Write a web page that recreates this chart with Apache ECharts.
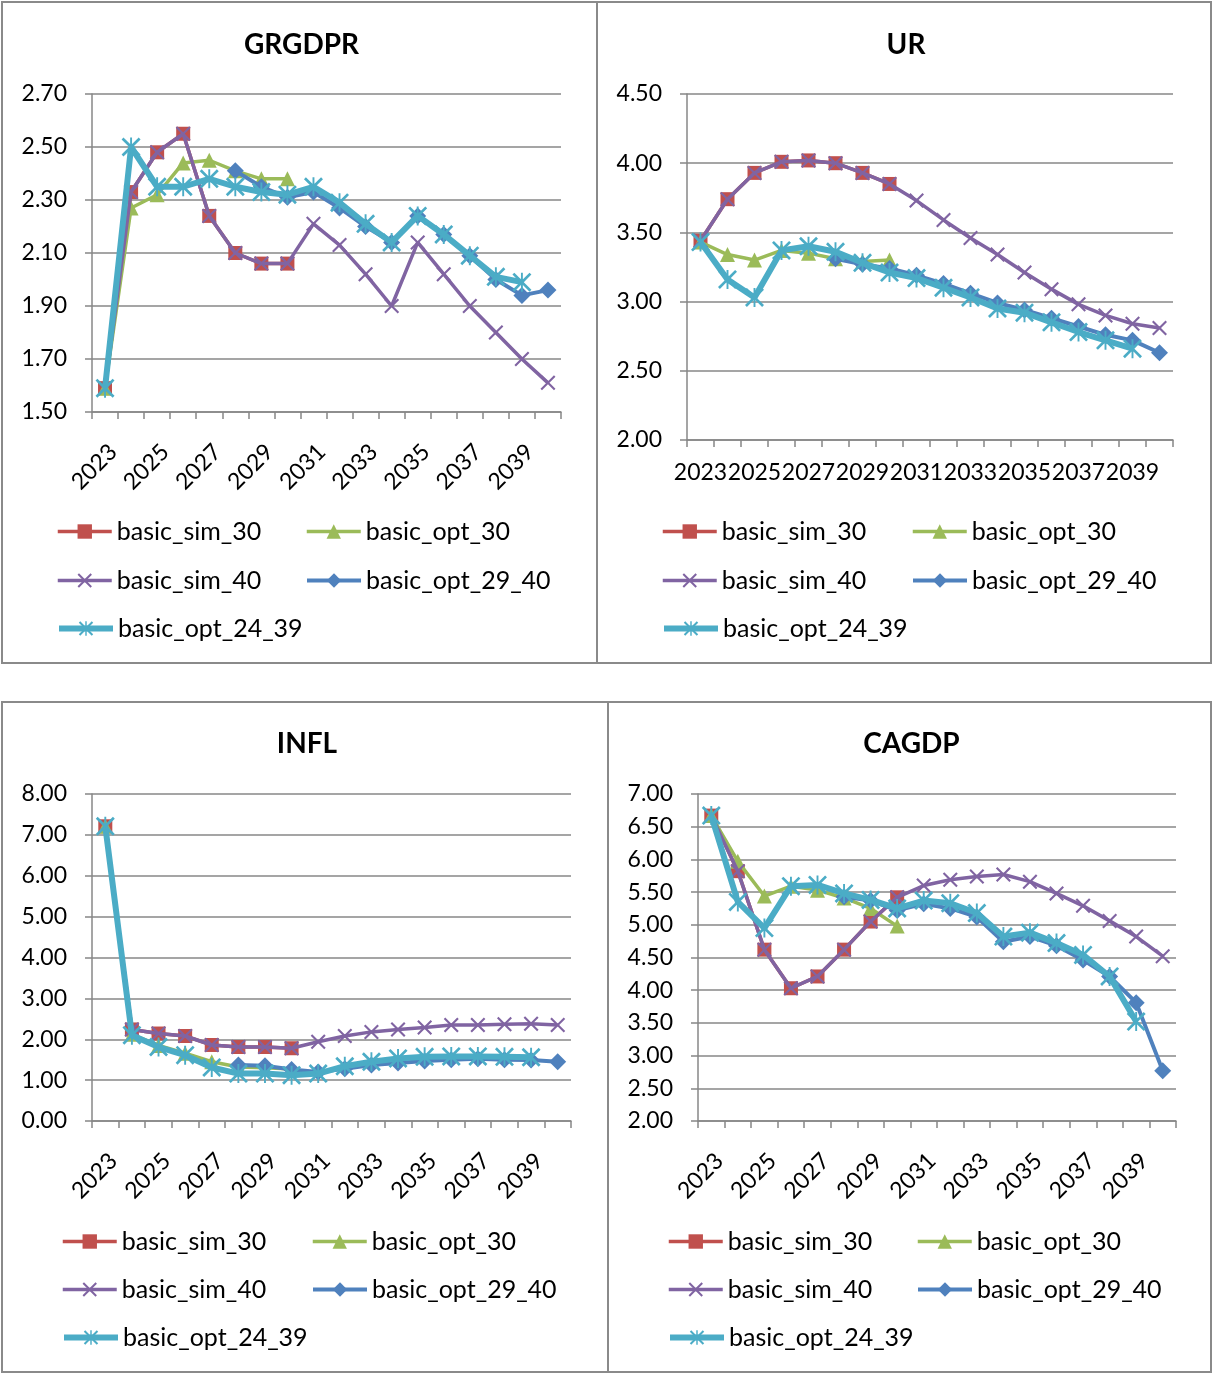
<!DOCTYPE html>
<html>
<head>
<meta charset="utf-8">
<script src="https://cdn.jsdelivr.net/npm/echarts@6/dist/echarts.min.js"></script>
<style>
  html, body { margin: 0; padding: 0; background: #ffffff; }
  #chart { width: 1213px; height: 1373px; }
</style>
</head>
<body>
<div id="chart"></div>
<script>
// Scenario comparison, 2023-2040
const years = ['2023','2024','2025','2026','2027','2028','2029','2030','2031','2032',
               '2033','2034','2035','2036','2037','2038','2039','2040'];

const seriesNames = ['basic_sim_30', 'basic_opt_30', 'basic_sim_40', 'basic_opt_29_40', 'basic_opt_24_39'];

// GRGDPR
const grgdprSim30   = [1.59, 2.33, 2.48, 2.55, 2.24, 2.10, 2.06, 2.06, null, null, null, null, null, null, null, null, null, null];
const grgdprOpt30   = [1.59, 2.27, 2.32, 2.44, 2.45, 2.41, 2.38, 2.38, null, null, null, null, null, null, null, null, null, null];
const grgdprSim40   = [1.59, 2.33, 2.48, 2.55, 2.24, 2.10, 2.06, 2.06, 2.21, 2.13, 2.02, 1.90, 2.14, 2.02, 1.90, 1.80, 1.70, 1.61];
const grgdprOpt2940 = [null, null, null, null, null, 2.41, 2.35, 2.31, 2.33, 2.27, 2.20, 2.14, 2.24, 2.17, 2.09, 2.00, 1.94, 1.96];
const grgdprOpt2439 = [1.59, 2.50, 2.35, 2.35, 2.38, 2.35, 2.33, 2.32, 2.35, 2.29, 2.21, 2.14, 2.24, 2.17, 2.09, 2.01, 1.99, null];

// UR
const urSim30   = [3.44, 3.74, 3.93, 4.01, 4.02, 4.00, 3.93, 3.85, null, null, null, null, null, null, null, null, null, null];
const urOpt30   = [3.43, 3.34, 3.30, 3.37, 3.35, 3.31, 3.29, 3.30, null, null, null, null, null, null, null, null, null, null];
const urSim40   = [3.44, 3.74, 3.93, 4.01, 4.02, 4.00, 3.93, 3.85, 3.73, 3.59, 3.46, 3.34, 3.21, 3.09, 2.98, 2.90, 2.84, 2.81];
const urOpt2940 = [null, null, null, null, null, 3.31, 3.27, 3.24, 3.19, 3.13, 3.06, 2.99, 2.94, 2.88, 2.82, 2.76, 2.72, 2.63];
const urOpt2439 = [3.43, 3.16, 3.03, 3.37, 3.40, 3.36, 3.28, 3.21, 3.17, 3.10, 3.03, 2.95, 2.92, 2.85, 2.78, 2.72, 2.66, null];

// INFL
const inflSim30   = [7.21, 2.24, 2.14, 2.08, 1.86, 1.81, 1.81, 1.78, null, null, null, null, null, null, null, null, null, null];
const inflOpt30   = [7.21, 2.12, 1.85, 1.66, 1.45, 1.32, 1.30, 1.27, null, null, null, null, null, null, null, null, null, null];
const inflSim40   = [7.21, 2.24, 2.14, 2.08, 1.86, 1.81, 1.81, 1.78, 1.94, 2.08, 2.18, 2.24, 2.29, 2.35, 2.35, 2.37, 2.38, 2.35];
const inflOpt2940 = [null, null, null, null, null, 1.37, 1.35, 1.26, 1.20, 1.28, 1.37, 1.42, 1.47, 1.50, 1.52, 1.50, 1.49, 1.45];
const inflOpt2439 = [7.21, 2.10, 1.81, 1.61, 1.31, 1.16, 1.16, 1.12, 1.16, 1.34, 1.45, 1.53, 1.57, 1.58, 1.58, 1.57, 1.56, null];

// CAGDP
const cagdpSim30   = [6.67, 5.82, 4.62, 4.03, 4.21, 4.62, 5.05, 5.42, null, null, null, null, null, null, null, null, null, null];
const cagdpOpt30   = [6.67, 5.97, 5.44, 5.59, 5.53, 5.41, 5.25, 4.98, null, null, null, null, null, null, null, null, null, null];
const cagdpSim40   = [6.67, 5.82, 4.62, 4.03, 4.21, 4.62, 5.05, 5.42, 5.60, 5.69, 5.74, 5.77, 5.66, 5.48, 5.29, 5.06, 4.82, 4.52];
const cagdpOpt2940 = [null, null, null, null, null, 5.43, 5.37, 5.22, 5.32, 5.25, 5.12, 4.74, 4.82, 4.68, 4.46, 4.21, 3.81, 2.77];
const cagdpOpt2439 = [6.67, 5.35, 4.95, 5.59, 5.61, 5.48, 5.38, 5.25, 5.37, 5.33, 5.18, 4.82, 4.88, 4.72, 4.54, 4.21, 3.52, null];

const panelTitles = ['GRGDPR', 'UR', 'INFL', 'CAGDP'];
const panelData = [
  [grgdprSim30, grgdprOpt30, grgdprSim40, grgdprOpt2940, grgdprOpt2439],
  [urSim30, urOpt30, urSim40, urOpt2940, urOpt2439],
  [inflSim30, inflOpt30, inflSim40, inflOpt2940, inflOpt2439],
  [cagdpSim30, cagdpOpt30, cagdpSim40, cagdpOpt2940, cagdpOpt2439]
];
const yMin = [1.5, 2.0, 0.0, 2.0];
const yMax = [2.7, 4.5, 8.0, 7.0];
const yStep = [0.2, 0.5, 1.0, 0.5];

// Layout of the four panels (page pixels)
const panelBox = [
  { x: 2,   y: 2,   w: 595, h: 661 },
  { x: 597, y: 2,   w: 614, h: 661 },
  { x: 2,   y: 702, w: 606, h: 670 },
  { x: 608, y: 702, w: 603, h: 670 }
];
const plotBox = [
  { left: 92,  top: 94,  width: 469, height: 318 },
  { left: 687, top: 94,  width: 486, height: 346 },
  { left: 92,  top: 794, width: 479, height: 327 },
  { left: 698, top: 794, width: 478, height: 327 }
];
const legendCols = [[56, 305], [661, 911], [61, 311], [667, 916]];
const legendRows = [[531, 580, 628], [531, 580, 628], [1241, 1289, 1337], [1241, 1289, 1337]];

const FONT = 'Lato';
const AXIS_GRAY = '#878787';
const colors = ['#C0504D', '#9BBB59', '#8064A2', '#4F81BD', '#4BACC6'];

// marker shapes
const crossPath = 'path://M0,2 L2,0 L10,8 L18,0 L20,2 L12,10 L20,18 L18,20 L10,12 L2,20 L0,18 L8,10 Z';
const starPath = 'path://M0,2 L2,0 L10,8 L18,0 L20,2 L12,10 L20,18 L18,20 L10,12 L2,20 L0,18 L8,10 Z M9,0 L11,0 L11,20 L9,20 Z';
const symbols = ['rect', 'triangle', crossPath, 'diamond', starPath];
const symbolSizes = [14, 15, 15, 17, 19];
const lineWidths = [3.5, 3.5, 3.5, 4, 6];

const grid = [], xAxis = [], yAxis = [], series = [], title = [], legend = [], graphic = [];

panelTitles.forEach(function (name, p) {
  const pb = plotBox[p];
  grid.push({ left: pb.left, top: pb.top, width: pb.width, height: pb.height, containLabel: false });

  const rotated = p !== 1;
  xAxis.push({
    type: 'category', gridIndex: p, data: years, boundaryGap: true,
    axisLine: { show: true, lineStyle: { color: AXIS_GRAY, width: 1.5 } },
    axisTick: { show: true, interval: 0, length: 7, lineStyle: { color: AXIS_GRAY, width: 1.5 } },
    axisLabel: rotated
      ? { interval: 1, rotate: 45, margin: 28, align: 'right', verticalAlign: 'top',
          fontFamily: FONT, fontSize: 23, color: '#000' }
      : { interval: 1, rotate: 0, margin: 21, fontFamily: FONT, fontSize: 23, color: '#000' },
    splitLine: { show: false }
  });

  yAxis.push({
    type: 'value', gridIndex: p, min: yMin[p], max: yMax[p], interval: yStep[p],
    axisLine: { show: true, lineStyle: { color: AXIS_GRAY, width: 1.5 } },
    axisTick: { show: true, length: 7, lineStyle: { color: AXIS_GRAY, width: 1.5 } },
    splitLine: { show: true, lineStyle: { color: AXIS_GRAY, width: 1.5 } },
    axisLabel: { margin: 25, fontFamily: FONT, fontSize: 23, color: '#000',
                 formatter: function (v) { return v.toFixed(2); } }
  });

  title.push({
    text: name, left: panelBox[p].x + panelBox[p].w / 2 - 3, top: p < 2 ? 26 : 725, textAlign: 'center',
    textStyle: { fontFamily: FONT, fontWeight: 'bold', fontSize: 28, color: '#000' }
  });

  panelData[p].forEach(function (values, k) {
    series.push({
      name: seriesNames[k], type: 'line', xAxisIndex: p, yAxisIndex: p,
      data: values, z: 2 + k,
      symbol: symbols[k], symbolSize: symbolSizes[k], showSymbol: true, showAllSymbol: true,
      lineStyle: { color: colors[k], width: lineWidths[k] },
      itemStyle: { color: colors[k], borderWidth: 0 },
      emphasis: { disabled: true },
      animation: false
    });
  });

  // legend: two columns, three rows
  const slots = [[0, 0], [1, 0], [0, 1], [1, 1], [0, 2]];
  seriesNames.forEach(function (sn, k) {
    legend.push({
      data: [sn], left: legendCols[p][slots[k][0]], top: legendRows[p][slots[k][1]] - 12,
      orient: 'horizontal', padding: 0, itemGap: 0, itemWidth: 54, itemHeight: 18,
      selectedMode: false,
      lineStyle: { width: lineWidths[k] },
      textStyle: { fontFamily: FONT, fontSize: 25, color: '#000' }
    });
  });

  const b = panelBox[p];
  graphic.push({
    type: 'rect', shape: { x: b.x, y: b.y, width: b.w, height: b.h },
    style: { fill: 'none', stroke: '#8a8a8a', lineWidth: 2 }, silent: true, z: 0
  });
});

const chart = echarts.init(document.getElementById('chart'), null, { renderer: 'canvas' });
chart.setOption({
  backgroundColor: '#ffffff',
  animation: false,
  title: title,
  grid: grid,
  xAxis: xAxis,
  yAxis: yAxis,
  legend: legend,
  series: series,
  graphic: graphic
});
</script>
</body>
</html>
